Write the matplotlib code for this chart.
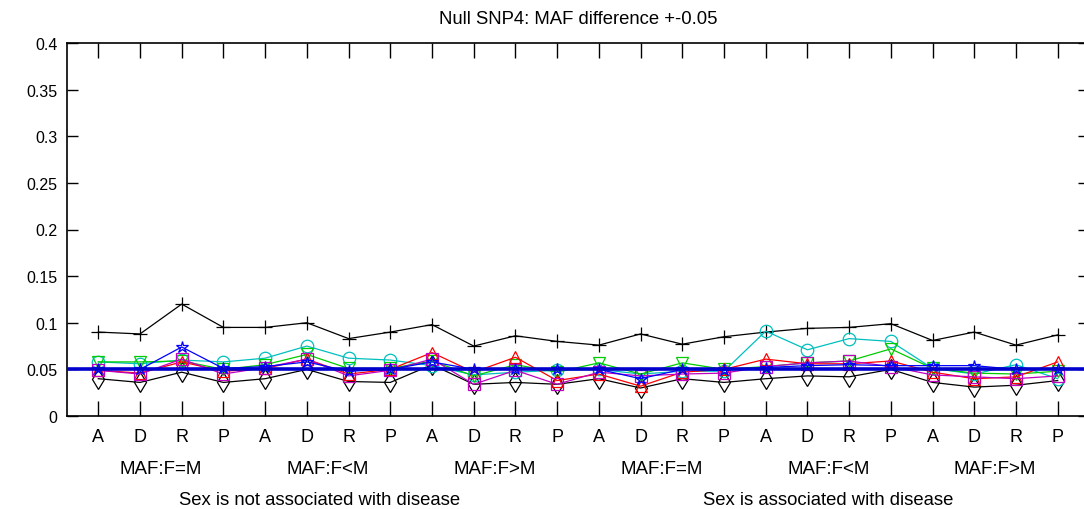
import matplotlib
matplotlib.use("Agg")
import matplotlib.pyplot as plt
import numpy as np

plt.rcParams['font.family'] = ['Liberation Sans', 'DejaVu Sans']

tick_labels = ['A', 'D', 'R', 'P'] * 6
group_labels = ['MAF:F=M', 'MAF:F<M', 'MAF:F>M', 'MAF:F=M', 'MAF:F<M', 'MAF:F>M']
half_labels = ['Sex is not associated with disease', 'Sex is associated with disease']
title = 'Null SNP4: MAF difference +-0.05'
threshold = 0.05

black_plus = [0.090, 0.088, 0.120, 0.095, 0.095, 0.100, 0.083, 0.090, 0.098, 0.075, 0.086, 0.080,
              0.076, 0.088, 0.077, 0.085, 0.090, 0.094, 0.095, 0.099, 0.081, 0.090, 0.076, 0.087]
black_diamond = [0.040, 0.036, 0.047, 0.036, 0.040, 0.050, 0.037, 0.036, 0.055, 0.034, 0.036, 0.034,
                 0.040, 0.030, 0.040, 0.036, 0.040, 0.043, 0.042, 0.050, 0.036, 0.031, 0.033, 0.038]
cyan_circle = [0.058, 0.056, 0.060, 0.058, 0.062, 0.075, 0.062, 0.060, 0.054, 0.044, 0.047, 0.049,
               0.050, 0.045, 0.048, 0.048, 0.091, 0.071, 0.083, 0.080, 0.051, 0.045, 0.055, 0.040]
green_tri = [0.058, 0.058, 0.059, 0.050, 0.055, 0.066, 0.051, 0.051, 0.059, 0.043, 0.055, 0.047,
             0.057, 0.045, 0.057, 0.050, 0.053, 0.057, 0.059, 0.072, 0.051, 0.046, 0.045, 0.048]
blue_star = [0.050, 0.050, 0.074, 0.051, 0.053, 0.058, 0.048, 0.050, 0.058, 0.050, 0.050, 0.050,
             0.050, 0.040, 0.050, 0.049, 0.052, 0.054, 0.055, 0.054, 0.054, 0.054, 0.050, 0.050]
red_tri = [0.049, 0.046, 0.058, 0.048, 0.051, 0.061, 0.045, 0.050, 0.068, 0.047, 0.063, 0.038,
           0.045, 0.032, 0.047, 0.050, 0.061, 0.056, 0.056, 0.059, 0.047, 0.040, 0.042, 0.058]
magenta_sq = [0.049, 0.045, 0.061, 0.045, 0.052, 0.061, 0.043, 0.049, 0.061, 0.034, 0.049, 0.034,
              0.047, 0.043, 0.045, 0.046, 0.053, 0.057, 0.059, 0.053, 0.044, 0.042, 0.040, 0.043]

x = np.arange(1, len(tick_labels) + 1)

fig = plt.figure(figsize=(10.84, 5.10), dpi=100)
ax = fig.add_axes([67 / 1084, (510 - 417) / 510, (1089 - 67) / 1084, 373 / 510])

series = [
    (black_plus, 'k', '+', 10),
    (black_diamond, 'k', 'd', 10),
    (cyan_circle, 'c', 'o', 9),
    (green_tri, '#00cc00', 'v', 8),
    (red_tri, 'r', '^', 8),
    (magenta_sq, 'm', 's', 8),
    (blue_star, 'b', '*', 9),
]
for vals, col, mk, ms in series:
    ax.plot(x, vals, color=col, marker=mk, markersize=ms, markerfacecolor='none',
            markeredgecolor=col, linewidth=0.9, markeredgewidth=0.9, zorder=2)

ax.axhline(threshold, color='#0000cc', linewidth=2.6, zorder=3)

ax.set_xlim(0.25, 24.75)
ax.set_ylim(0, 0.4)
ax.set_xticks(x)
ax.set_xticklabels(tick_labels, fontsize=13)
yt = [0, 0.05, 0.1, 0.15, 0.2, 0.25, 0.3, 0.35, 0.4]
ax.set_yticks(yt)
ax.set_yticklabels(['0', '0.05', '0.1', '0.15', '0.2', '0.25', '0.3', '0.35', '0.4'], fontsize=11.5)
ax.tick_params(axis='x', direction='in', length=11, width=1, top=True, pad=9)
ax.tick_params(axis='y', direction='in', length=8, width=1, right=True, pad=7)
for s in ax.spines.values():
    s.set_linewidth(1.2)

trans = ax.get_xaxis_transform()
for i, g in enumerate(group_labels):
    ax.text(2.5 + 4 * i, -0.142, g, transform=trans, ha='center', va='center', fontsize=13.5)
half_centers = [6.3, 18.5]
for xc, h in zip(half_centers, half_labels):
    ax.text(xc, -0.225, h, transform=trans, ha='center', va='center', fontsize=13.3)

ax.text(0.5, 1.066, title, transform=ax.transAxes, ha='center', va='center', fontsize=13.3)

fig.savefig('out.png', dpi=100)
